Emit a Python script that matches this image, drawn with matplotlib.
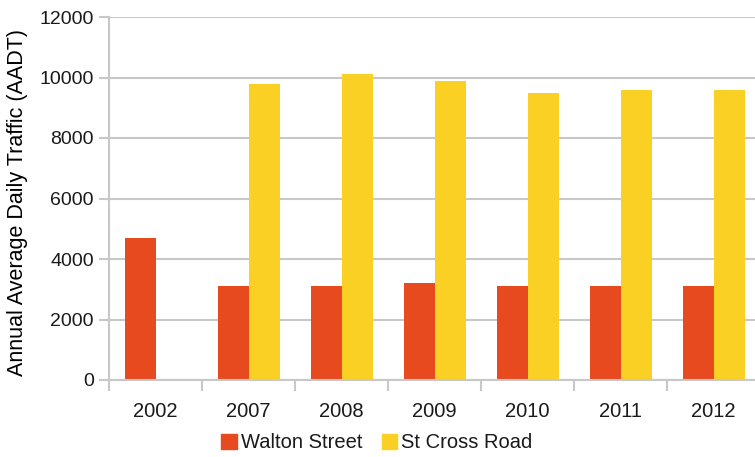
import numpy as np
import matplotlib
matplotlib.use("Agg")
import matplotlib.pyplot as plt
from matplotlib.patches import Patch

years = ["2002", "2007", "2008", "2009", "2010", "2011", "2012"]
walton_street = [4700, 3100, 3100, 3200, 3100, 3100, 3100]
st_cross_road = [np.nan, 9800, 10100, 9900, 9500, 9600, 9600]

ORANGE = "#E84A20"
YELLOW = "#F9D023"
GRID = "#C8C8C8"
TEXT = "#1A1A1A"

plt.rcParams["font.family"] = ["Liberation Sans", "DejaVu Sans"]
plt.rcParams["text.color"] = TEXT
plt.rcParams["xtick.labelcolor"] = TEXT
plt.rcParams["ytick.labelcolor"] = TEXT

fig = plt.figure(figsize=(7.55, 4.57), dpi=100)
ax = fig.add_axes([109 / 755, 1 - 380 / 457, 651 / 755, 363 / 457])

x = np.arange(len(years))
width = 1 / 3
ax.bar(x - width / 2, walton_street, width=width, color=ORANGE, zorder=3)
ax.bar(x + width / 2, st_cross_road, width=width, color=YELLOW, zorder=3)

ax.set_xlim(-0.5, len(years) - 0.5)
ax.set_ylim(0, 12000)
ax.set_yticks(np.arange(0, 12001, 2000))
ax.tick_params(axis="y", labelsize=14, length=7, color=GRID, width=1.5, pad=4)

# labels at category centres, tick marks on the boundaries
ax.set_xticks(x)
ax.set_xticklabels(years)
ax.set_xticks(np.arange(len(years) + 1) - 0.5, minor=True)
ax.tick_params(axis="x", which="major", length=0, labelsize=14.5, pad=16)
ax.tick_params(axis="x", which="minor", length=8, color=GRID, width=1.5)

ax.grid(axis="y", color=GRID, linewidth=1.5, zorder=0)
for side in ["top", "right"]:
    ax.spines[side].set_visible(False)
for side in ["left", "bottom"]:
    ax.spines[side].set_color(GRID)
    ax.spines[side].set_linewidth(1.5)
    ax.spines[side].set_zorder(4)

ax.set_ylabel("Annual Average Daily Traffic (AADT)", fontsize=15.5)
ax.yaxis.set_label_coords(-81 / 651, 0.49)

handles = [Patch(color=ORANGE), Patch(color=YELLOW)]
fig.legend(handles, ["Walton Street", "St Cross Road"], loc="center",
           bbox_to_anchor=(377 / 755, 1 - 443 / 457), ncol=2, frameon=False,
           fontsize=14.5, handlelength=0.75, handleheight=0.75,
           handletextpad=0.2, columnspacing=1.0, borderpad=0)

fig.savefig("out.png", dpi=100)
